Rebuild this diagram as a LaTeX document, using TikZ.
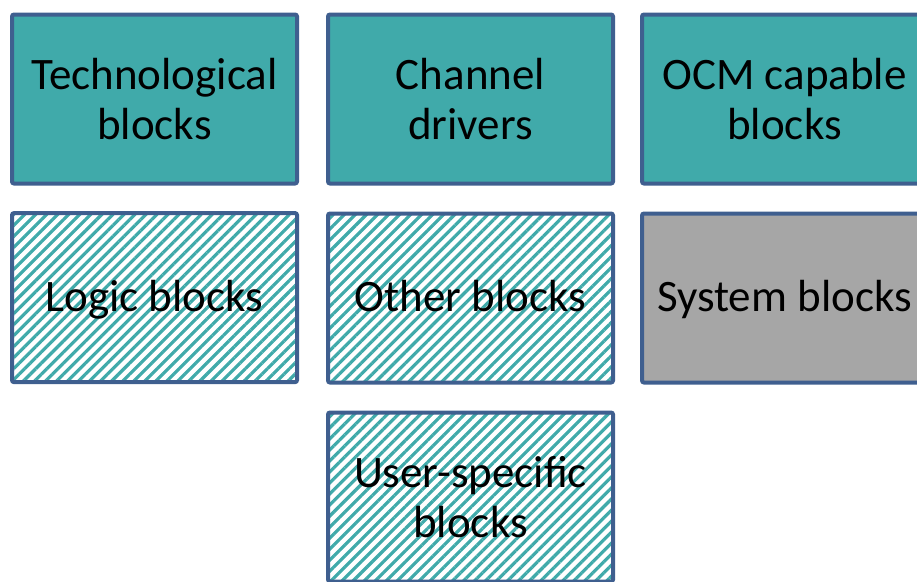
\documentclass[tikz,border=0pt]{standalone}
\usepackage{fontspec}
\setmainfont{Carlito}
\usepackage{xcolor}
\usepackage{tikz}
\usetikzlibrary{
positioning,
patterns.meta
}

\definecolor{blockteal}{HTML}{40AAAA}
\definecolor{blockedge}{HTML}{3F5F8F}
\definecolor{blockgray}{HTML}{A6A6A6}

\begin{document}
\begin{tikzpicture}[
x=1pt,y=-1pt,
node distance=26pt and 25pt,
block/.style={
draw=blockedge,
line width=4pt,
rounded corners=2pt,
align=center,
minimum width=285pt,
minimum height=169pt,
font=\fontsize{45}{50}\selectfont
},
oneline/.style={text height=31pt,text depth=4pt},
solidblock/.style={block,fill=blockteal},
hatchblock/.style={block,
pattern={Lines[angle=45,distance=7.8pt,line width=3.2pt]},
pattern color=blockteal},
grayblock/.style={block,fill=blockgray}
]

\useasboundingbox (0,0) rectangle (917,581);
\clip (0,0) rectangle (917,581);

% top row
\node[solidblock] (tech) at (154.5,99) {Technological\\blocks};
\node[solidblock,right=27pt of tech] (chan) {Channel\\drivers};
\node[solidblock,right=of chan] (ocm) {OCM capable\\blocks};

% middle row
\node[hatchblock,oneline,below=of tech] (logic) {Logic blocks};
\node[hatchblock,oneline,below=of chan] (other) {Other blocks};
\node[grayblock,oneline,below=of ocm] (sys) {System blocks};

% bottom row
\node[hatchblock,below=of other] (user) {User-specific\\blocks};

\end{tikzpicture}
\end{document}
